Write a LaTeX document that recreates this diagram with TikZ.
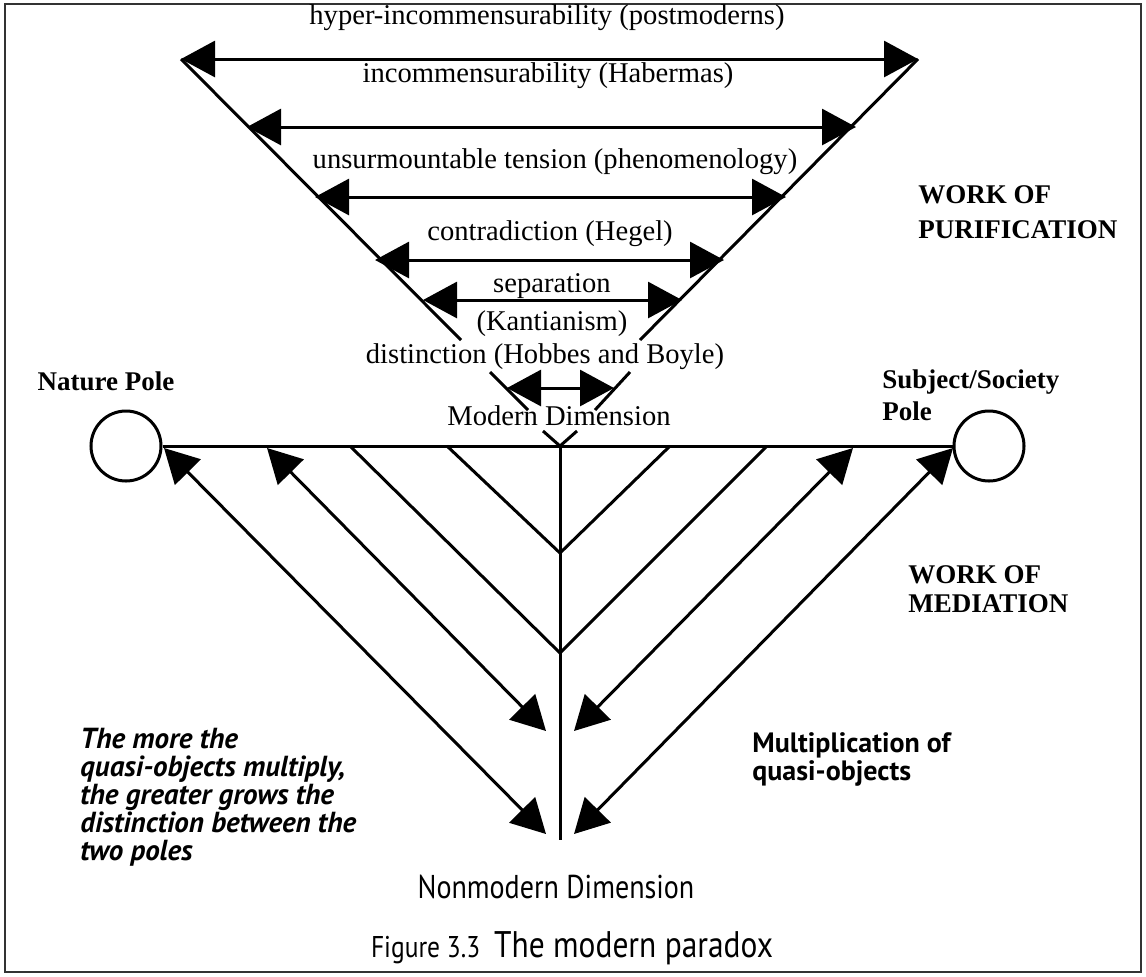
\documentclass[tikz,border=0pt]{standalone}
\usepackage{fontspec}
\setmainfont{Liberation Serif}
\newfontfamily\optima[FakeStretch=0.85]{PT Sans}
\newfontfamily\gill{PT Sans}
\usetikzlibrary{arrows.meta}
\begin{document}
\begin{tikzpicture}[x=0.5pt,y=-0.5pt,
  ln/.style={line width=1.5pt},
  tipA/.tip={Triangle[length=17pt,width=18pt]},
  dbl/.style={ln,tipA-tipA},
  lbl/.style={inner sep=0pt,anchor=base,font=\fontsize{14.3}{16}\selectfont},
  boldlbl/.style={inner sep=0pt,anchor=base west,align=left,font=\fontsize{13.5}{16}\selectfont\bfseries},
  sanslbl/.style={inner sep=0pt,anchor=base,font=\fontsize{16.5}{18}\selectfont\optima},
  pole/.style={circle,draw,ln,minimum size=35pt,inner sep=0pt}
]
\useasboundingbox (0,0) rectangle (1146,976);
\draw[line width=1pt,black!80] (5,4) rectangle (1141,972);

% ---------- work of purification ----------
\coordinate (Ltop) at (181,59);
\coordinate (Lbot) at (461,340);
\coordinate (Rtop) at (918,59);
\coordinate (Rbot) at (640,340);
\draw[ln] (Ltop) -- (Lbot);
\draw[ln] (Rtop) -- (Rbot);

\coordinate (p1l) at (181,59);  \coordinate (p1r) at (918,59);
\coordinate (p2l) at (247,127); \coordinate (p2r) at (856,127);
\coordinate (p3l) at (315,197); \coordinate (p3r) at (786,197);
\coordinate (p4l) at (375,260); \coordinate (p4r) at (724,260);
\coordinate (p5l) at (423,300); \coordinate (p5r) at (682,300);
\coordinate (p6l) at (507,388); \coordinate (p6r) at (614,388);
\draw[dbl] (p1l) -- (p1r);
\draw[dbl] (p2l) -- (p2r);
\draw[dbl] (p3l) -- (p3r);
\draw[dbl] (p4l) -- (p4r);
\draw[dbl] (p5l) -- (p5r);
\draw[dbl] (p6l) -- (p6r);

\coordinate (s1a) at (490,372); \coordinate (s1b) at (528,410);
\coordinate (s2a) at (630,372); \coordinate (s2b) at (595,410);
\draw[ln] (s1a) -- (s1b);
\draw[ln] (s2a) -- (s2b);

\node[lbl] (t1) at (547,24) {hyper-incommensurability (postmoderns)};
\node[lbl] (t2) at (548,82) {incommensurability (Habermas)};
\node[lbl] (t3) at (555,168) {unsurmountable tension (phenomenology)};
\node[lbl] (t4) at (550,240) {contradiction (Hegel)};
\node[lbl] (t5) at (552,292) {separation};
\node[lbl] (t5b) at (552,330) {(Kantianism)};
\node[lbl] (t6) at (545,363) {distinction (Hobbes and Boyle)};
\node[lbl] (md) at (559,425) {Modern Dimension};

\node[boldlbl,font=\fontsize{13.5}{17.5}\selectfont\bfseries] (wp) at (918,238) {WORK OF\\PURIFICATION};

% ---------- poles ----------
\node[pole] (np) at (126,446) {};
\node[pole] (sp) at (989,446) {};
\node[inner sep=0pt,anchor=base,font=\fontsize{13.5}{16}\selectfont\bfseries] (npl) at (106,390) {Nature Pole};
\node[boldlbl] (spl) at (882,420) {Subject/Society\\Pole};
\draw[ln] (np.east) -- (sp.west);

% ---------- work of mediation ----------
\coordinate (top) at (560,446);
\coordinate (bot) at (560,840);
\draw[ln] (top) -- (bot);
\coordinate (ya) at (543,431); \coordinate (yb) at (577,431);
\draw[ln] (ya) -- (top) -- (yb);

\coordinate (v1) at (560,553);
\coordinate (v2) at (560,653);
\coordinate (a4l) at (447,446); \coordinate (a4r) at (670,446);
\coordinate (a3l) at (350,446); \coordinate (a3r) at (767,446);
\draw[ln] (a4l) -- (v1) -- (a4r);
\draw[ln] (a3l) -- (v2) -- (a3r);

\coordinate (d1a) at (164,448); \coordinate (d1b) at (546,834);
\coordinate (d2a) at (267,448); \coordinate (d2b) at (546,731);
\coordinate (e2a) at (853,448); \coordinate (e2b) at (574,731);
\coordinate (e1a) at (953,448); \coordinate (e1b) at (574,834);
\draw[dbl] (d1a) -- (d1b);
\draw[dbl] (d2a) -- (d2b);
\draw[dbl] (e2a) -- (e2b);
\draw[dbl] (e1a) -- (e1b);

\node[boldlbl,font=\fontsize{13.5}{14.5}\selectfont\bfseries] (wm) at (908,612) {WORK OF\\MEDIATION};

\node[inner sep=0pt,anchor=base west,align=left,font={\fontsize{14.5}{14}\selectfont\lineskiplimit=-20pt\lineskip=0pt\gill\bfseries\itshape}] (it) at (80,860)
  {The more the\\quasi-objects multiply,\\the greater grows the\\distinction between the\\two poles};
\node[inner sep=0pt,anchor=base west,align=left,font={\fontsize{14}{14}\selectfont\lineskiplimit=-20pt\lineskip=0pt\gill\bfseries}] (mq) at (752,780)
  {Multiplication of\\quasi-objects};

\node[sanslbl] (nd) at (556,898) {Nonmodern Dimension};
\node[inner sep=0pt,anchor=base] (cap) at (572,957)
  {{\fontsize{15}{16}\selectfont\optima Figure 3.3}\hspace{7pt}{\fontsize{18.5}{20}\selectfont\optima The modern paradox}};
\end{tikzpicture}
\end{document}
